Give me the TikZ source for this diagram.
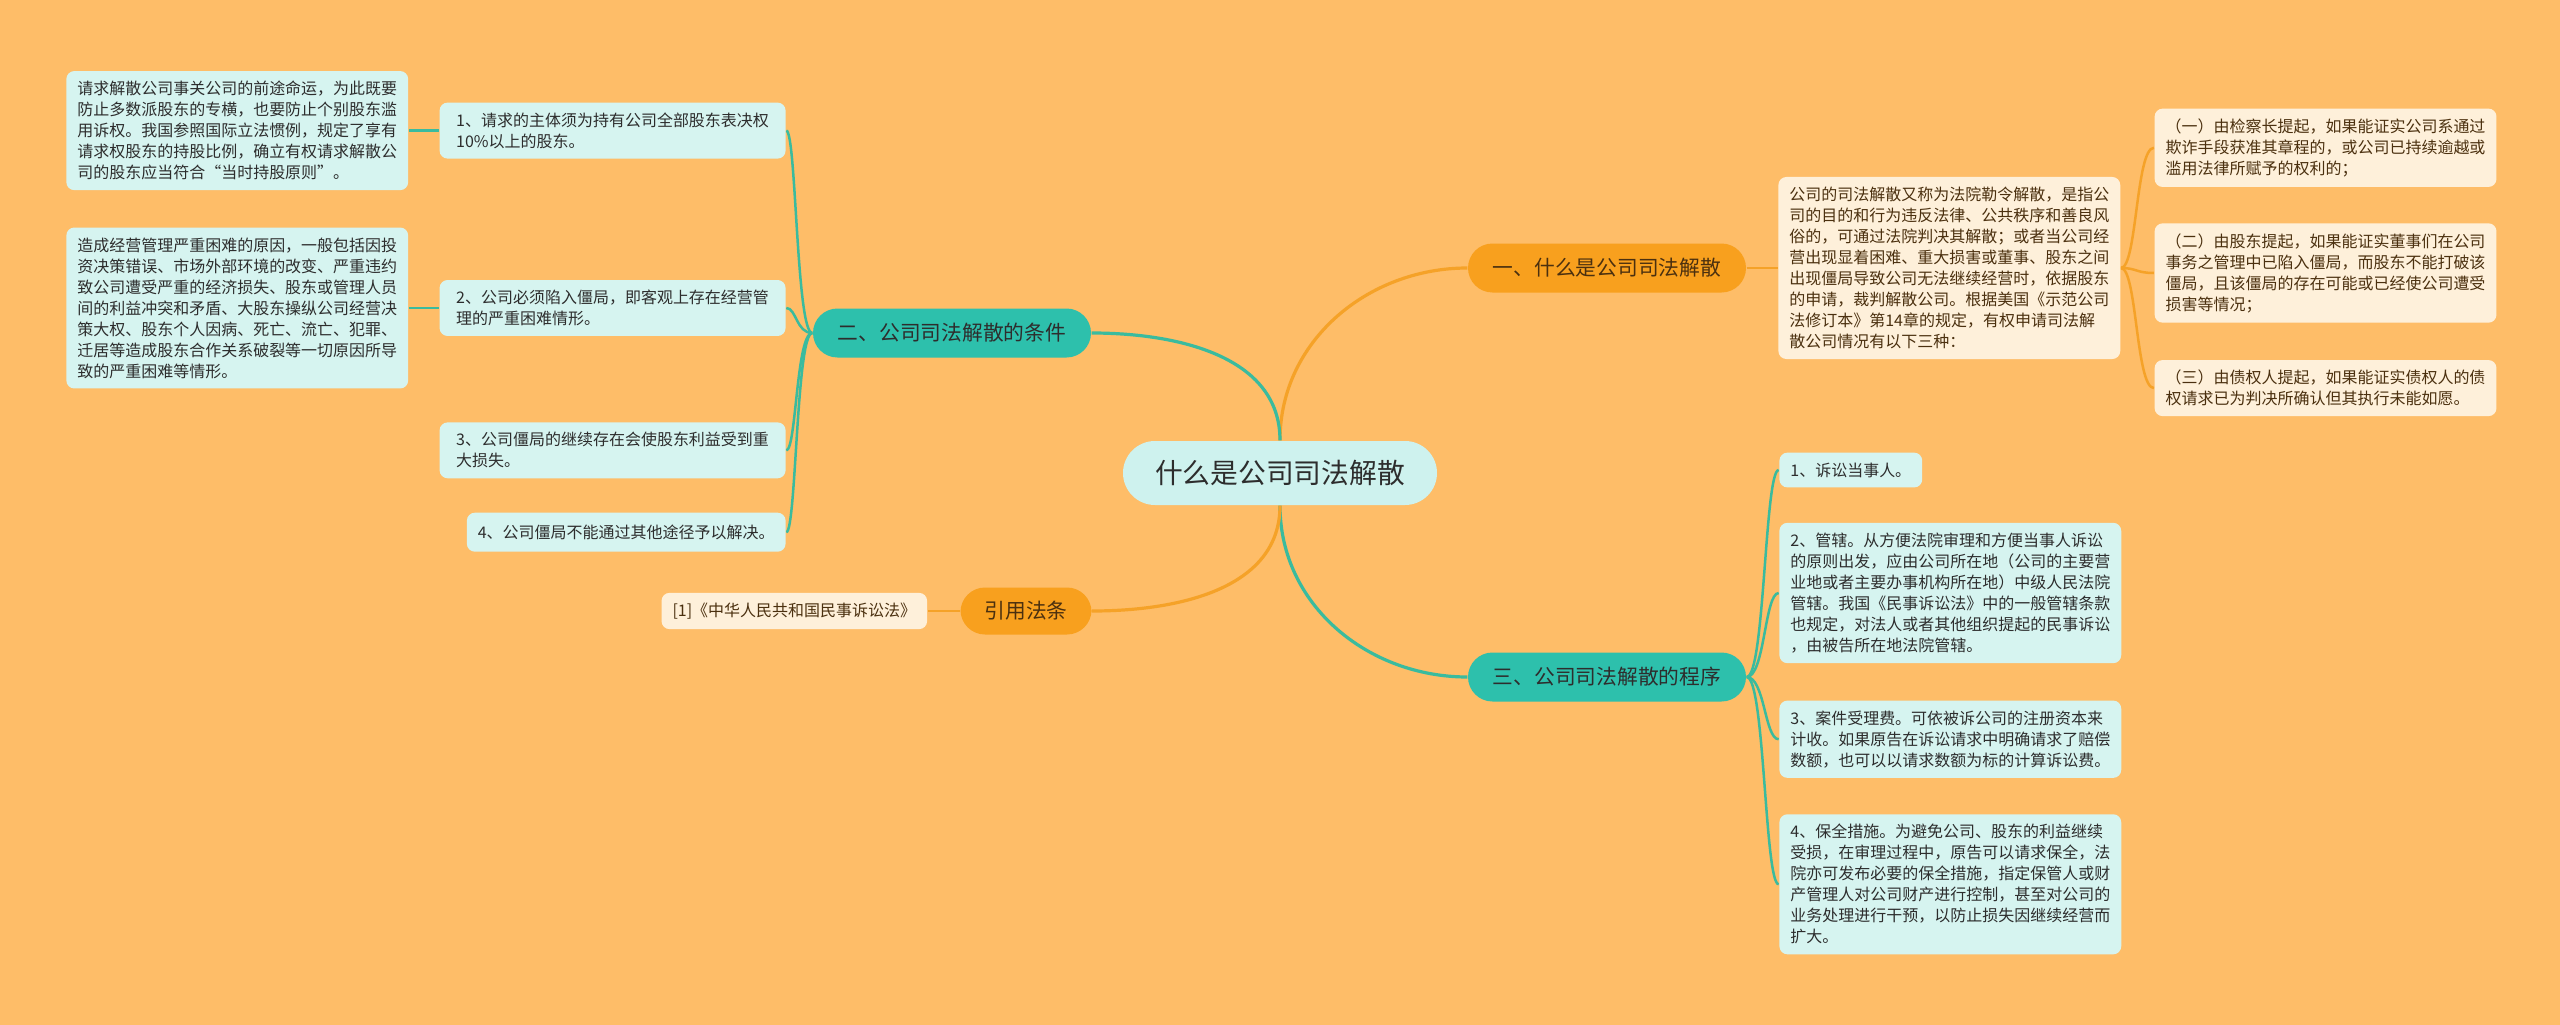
\documentclass[tikz,border=0pt]{standalone}
\usepackage{fontspec}
\setmainfont{Noto Sans CJK SC}
\usepackage{tikz}
\usetikzlibrary{positioning}
\definecolor{fondo}{RGB}{254,189,104}
\definecolor{turquesa}{RGB}{45,192,172}
\definecolor{lineaverde}{RGB}{58,187,158}
\definecolor{naranja}{RGB}{248,160,30}
\definecolor{lineanaranja}{RGB}{245,162,40}
\definecolor{celeste}{RGB}{214,244,240}
\definecolor{crema}{RGB}{254,240,218}
\definecolor{cielo}{RGB}{206,242,238}
\definecolor{tinta}{RGB}{45,45,45}
\definecolor{marron}{RGB}{75,48,15}
\pgfdeclarelayer{capafondo}
\pgfdeclarelayer{lineas}
\pgfsetlayers{capafondo,lineas,main}

\begin{document}
\begin{tikzpicture}[x=1mm,y=1mm,
raiz/.style={fill=cielo,rounded corners=3.2mm,minimum width=31.4mm,minimum height=6.4mm,inner sep=0pt,text=tinta,font=\fontsize{7.9pt}{9pt}\selectfont},
ramaT/.style={fill=turquesa,rounded corners=2.45mm,minimum width=27.8mm,minimum height=4.9mm,inner sep=0pt,text=tinta,font=\fontsize{5.9pt}{7pt}\selectfont},
ramaN/.style={ramaT,fill=naranja,text=marron},
hojaT/.style={fill=celeste,rounded corners=0.8mm,align=left,inner xsep=1.1mm,inner ysep=1mm,text=tinta,font=\fontsize{4.55pt}{5.98pt}\selectfont},
hojaN/.style={hojaT,fill=crema,text=marron},
lineaT/.style={draw=lineaverde,line width=0.25mm},
lineaN/.style={draw=lineanaranja,line width=0.25mm},
grueso/.style={line width=0.32mm}
]
\begin{pgfonlayer}{capafondo}
\fill[fondo] (0,0) rectangle (256,-102.5);
\end{pgfonlayer}
\useasboundingbox (0,0) rectangle (256,-102.5);

\node[raiz] (tema) at (128,-47.3) {什么是公司司法解散};

\node[ramaN] (que) at (160.7,-26.8) {一、什么是公司司法解散};
\node[ramaT] (cond) at (95.2,-33.3) {二、公司司法解散的条件};
\node[ramaT] (proc) at (160.7,-67.7) {三、公司司法解散的程序};
\node[ramaN,minimum width=13.1mm,minimum height=4.7mm] (ley) at (102.6,-61.1) {引用法条};

% condiciones (izquierda)
\node[hojaT,minimum width=34.6mm,left=2.6mm of cond,yshift=2.5mm] (c2) {2、公司必须陷入僵局，即客观上存在经营管\\理的严重困难情形。};
\node[hojaT,minimum width=34.6mm,above=12mm of c2.north east,anchor=south east] (c1) {1、请求的主体须为持有公司全部股东表决权\\10\%以上的股东。};
\node[hojaT,minimum width=34.6mm,below=8.5mm of c2.south east,anchor=north east] (c3) {3、公司僵局的继续存在会使股东利益受到重\\大损失。};
\node[hojaT,minimum height=3.9mm,below=3.3mm of c3.south east,anchor=north east] (c4) {4、公司僵局不能通过其他途径予以解决。};
\node[hojaT,left=3mm of c1] (n1) {请求解散公司事关公司的前途命运，为此既要\\防止多数派股东的专横，也要防止个别股东滥\\用诉权。我国参照国际立法惯例，规定了享有\\请求权股东的持股比例，确立有权请求解散公\\司的股东应当符合“当时持股原则”。};
\node[hojaT,left=3mm of c2] (n2) {造成经营管理严重困难的原因，一般包括因投\\资决策错误、市场外部环境的改变、严重违约\\致公司遭受严重的经济损失、股东或管理人员\\间的利益冲突和矛盾、大股东操纵公司经营决\\策大权、股东个人因病、死亡、流亡、犯罪、\\迁居等造成股东合作关系破裂等一切原因所导\\致的严重困难等情形。};

\node[hojaN,left=3.2mm of ley] (ref) {[1]《中华人民共和国民事诉讼法》};

% definicion (derecha arriba)
\node[hojaN,right=3.1mm of que] (def) {公司的司法解散又称为法院勒令解散，是指公\\司的目的和行为违反法律、公共秩序和善良风\\俗的，可通过法院判决其解散；或者当公司经\\营出现显着困难、重大损害或董事、股东之间\\出现僵局导致公司无法继续经营时，依据股东\\的申请，裁判解散公司。根据美国《示范公司\\法修订本》第14章的规定，有权申请司法解\\散公司情况有以下三种：};
\node[hojaN,right=3.3mm of def,yshift=-0.5mm] (q2) {（二）由股东提起，如果能证实董事们在公司\\事务之管理中已陷入僵局，而股东不能打破该\\僵局，且该僵局的存在可能或已经使公司遭受\\损害等情况；};
\node[hojaN,above=3.5mm of q2.north west,anchor=south west] (q1) {（一）由检察长提起，如果能证实公司系通过\\欺诈手段获准其章程的，或公司已持续逾越或\\滥用法律所赋予的权利的；};
\node[hojaN,below=3.6mm of q2.south west,anchor=north west] (q3) {（三）由债权人提起，如果能证实债权人的债\\权请求已为判决所确认但其执行未能如愿。};

% procedimiento (derecha abajo)
\node[hojaT,right=3.2mm of proc,yshift=8.4mm] (p2) {2、管辖。从方便法院审理和方便当事人诉讼\\的原则出发，应由公司所在地（公司的主要营\\业地或者主要办事机构所在地）中级人民法院\\管辖。我国《民事诉讼法》中的一般管辖条款\\也规定，对法人或者其他组织提起的民事诉讼\\，由被告所在地法院管辖。};
\node[hojaT,above=3.4mm of p2.north west,anchor=south west] (p1) {1、诉讼当事人。};
\node[hojaT,below=3.6mm of p2.south west,anchor=north west] (p3) {3、案件受理费。可依被诉公司的注册资本来\\计收。如果原告在诉讼请求中明确请求了赔偿\\数额，也可以以请求数额为标的计算诉讼费。};
\node[hojaT,below=3.5mm of p3.south west,anchor=north west] (p4) {4、保全措施。为避免公司、股东的利益继续\\受损，在审理过程中，原告可以请求保全，法\\院亦可发布必要的保全措施，指定保管人或财\\产管理人对公司财产进行控制，甚至对公司的\\业务处理进行干预，以防止损失因继续经营而\\扩大。};

\begin{pgfonlayer}{lineas}
\draw[lineaN,grueso] (tema) to[out=90,in=180] (que);
\draw[lineaT,grueso] (tema) to[out=90,in=0] (cond);
\draw[lineaT,grueso] (tema) to[out=-90,in=180] (proc);
\draw[lineaN,grueso] (tema) to[out=-90,in=0] (ley);
\draw[lineaN] (que) -- (def);
\draw[lineaN] (ley) -- (ref);
\foreach \h in {q1,q2,q3} \draw[lineaN] (def.east) .. controls +(1.6,0) and +(-1.8,0) .. (\h.west);
\foreach \h in {c1,c2,c3,c4} \draw[lineaT] (cond.west) .. controls +(-1.6,0) and +(1,0) .. (\h.east);
\draw[lineaT] (n1) -- (c1);
\draw[lineaT] (n2) -- (c2);
\foreach \h in {p1,p2,p3,p4} \draw[lineaT] (proc.east) .. controls +(1.8,0) and +(-1.4,0) .. (\h.west);
\end{pgfonlayer}
\end{tikzpicture}
\end{document}
